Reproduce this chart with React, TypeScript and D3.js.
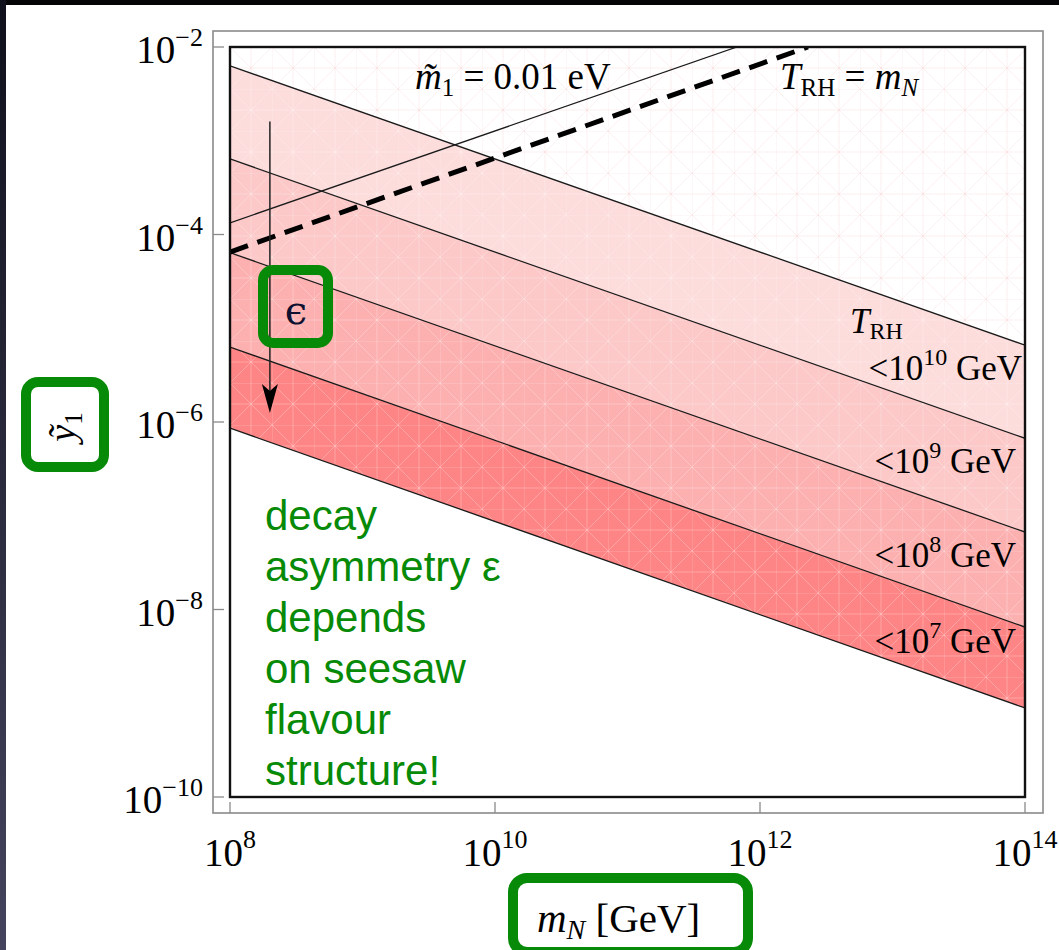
import React from "react";
import * as d3 from "d3";

// ---------- data ----------
const xTickExps = [8, 10, 12, 14];
const yTickExps = [-2, -4, -6, -8, -10];

// band boundary lines: value of ỹ1 at mN = 1e8 (left) and at mN = 1e14 (right)
const boundaryLeft = [6.3e-3, 6.4e-4, 6.4e-5, 6.3e-6, 8.6e-7];
const boundaryRight = [6.6e-6, 6.7e-7, 6.7e-8, 6.5e-9, 8.9e-10];

// T_RH bands labels (exponent of upper T_RH limit)
const bandExps = [10, 9, 8, 7];
const bandColors = ["#fddcdc", "#fcc8c8", "#fcb0b0", "#fe8585"];

// m̃1 = 0.01 eV line: [mN, y]
const m1Line: [number, number][] = [
  [1e8, 1.33e-4],
  [6.7e11, 1e-2],
];
// T_RH = m_N dashed line
const trhLine: [number, number][] = [
  [1e8, 6.5e-5],
  [2.3e12, 1e-2],
];
// epsilon arrow
const arrowX = 2.0e8;
const arrowY: [number, number] = [1.6e-3, 1.25e-6];

const noteLines = [
  "decay",
  "asymmetry \u03b5",
  "depends",
  "on seesaw",
  "flavour",
  "structure!",
];

const GREEN = "#078a07";
const SERIF = "'Liberation Serif', 'DejaVu Serif', serif";
const SANS = "'Liberation Sans', Arial, sans-serif";

export default function App() {
  const W = 1059;
  const H = 950;
  const x = d3.scaleLog().domain([1e8, 1e14]).range([230, 1025]);
  const y = d3.scaleLog().domain([1e-10, 1e-2]).range([797, 47]);
  const [x0, x1] = x.domain();
  const [y0, y1] = y.domain();

  const line = d3
    .line<[number, number]>()
    .x((d) => x(d[0]))
    .y((d) => y(d[1]));

  const bandPolys = bandExps.map((_, i) => {
    const pts: [number, number][] = [
      [x0, boundaryLeft[i]],
      [x1, boundaryRight[i]],
      [x1, boundaryRight[i + 1]],
      [x0, boundaryLeft[i + 1]],
    ];
    return line(pts) + "Z";
  });
  const topPoly =
    line([
      [x0, y1],
      [x1, y1],
      [x1, boundaryRight[0]],
      [x0, boundaryLeft[0]],
    ]) + "Z";
  const allBands =
    line([
      [x0, boundaryLeft[0]],
      [x1, boundaryRight[0]],
      [x1, boundaryRight[boundaryRight.length - 1]],
      [x0, boundaryLeft[boundaryLeft.length - 1]],
    ]) + "Z";

  const ax = x(arrowX);
  const ayTop = y(arrowY[0]);
  const ayTip = y(arrowY[1]);

  const plotL = x(x0);
  const plotR = x(x1);
  const plotT = y(y1);
  const plotB = y(y0);

  const meshPath =
    "M0 0 L42 42 M42 0 L0 42 M0 0 H42 M0 0 V42 M21 0 V42 M0 21 H42";

  return (
    <svg
      width={W}
      height={H}
      style={{ position: "absolute", left: 0, top: 0, display: "block" }}
    >
      <defs>
        <linearGradient id="edge" x1="0" y1="0" x2="0" y2="1">
          <stop offset="0" stopColor="#10101c" />
          <stop offset="1" stopColor="#44445e" />
        </linearGradient>
        <pattern id="meshW" width="42" height="42" patternUnits="userSpaceOnUse" x={plotL} y={plotT}>
          <path d={meshPath} stroke="#ffffff" strokeOpacity={0.25} strokeWidth={1} fill="none" />
        </pattern>
        <pattern id="meshP" width="42" height="42" patternUnits="userSpaceOnUse" x={plotL} y={plotT}>
          <path d={meshPath} stroke="#f4a0a0" strokeOpacity={0.16} strokeWidth={1} fill="none" />
        </pattern>
        <clipPath id="plotClip">
          <rect x={plotL} y={plotT} width={plotR - plotL} height={plotB - plotT} />
        </clipPath>
      </defs>

      {/* slide background */}
      <rect x={0} y={0} width={W} height={H} fill="#050508" />
      <rect x={0} y={0} width={6} height={H} fill="url(#edge)" />
      <rect x={6} y={5} width={W - 6} height={H - 5} fill="#ffffff" />

      {/* outer (gray) frame with ticks */}
      <rect x={213} y={31} width={1043 - 213} height={813 - 31} fill="none" stroke="#8a8a8a" strokeWidth={1.6} />
      {yTickExps.map((e) => (
        <line key={"yt" + e} x1={213} x2={224} y1={y(Math.pow(10, e))} y2={y(Math.pow(10, e))} stroke="#8a8a8a" strokeWidth={1.3} />
      ))}
      {xTickExps.map((e) => (
        <line key={"xt" + e} x1={x(Math.pow(10, e))} x2={x(Math.pow(10, e))} y1={813} y2={802} stroke="#8a8a8a" strokeWidth={1.3} />
      ))}

      {/* plot content */}
      <g clipPath="url(#plotClip)">
        <path d={topPoly} fill="url(#meshP)" />
        {bandPolys.map((d, i) => (
          <path key={"b" + i} d={d} fill={bandColors[i]} />
        ))}
        <path d={allBands} fill="url(#meshW)" />
        {boundaryLeft.map((v, i) => (
          <path
            key={"l" + i}
            d={line([
              [x0, v],
              [x1, boundaryRight[i]],
            ]) || ""}
            stroke="#1a1a1a"
            strokeWidth={1.3}
            fill="none"
          />
        ))}
        <path d={line(m1Line) || ""} stroke="#1a1a1a" strokeWidth={1.3} fill="none" />
        <path d={line(trhLine) || ""} stroke="#000" strokeWidth={5} strokeDasharray="19 10" fill="none" />
        {/* epsilon arrow */}
        <line x1={ax} x2={ax} y1={ayTop} y2={ayTip - 20} stroke="#222" strokeWidth={1.5} />
        <path d={`M${ax} ${ayTip} L${ax - 8} ${ayTip - 29} L${ax} ${ayTip - 22} L${ax + 8} ${ayTip - 29} Z`} fill="#000" />
      </g>

      {/* inner (black) frame */}
      <rect x={plotL} y={plotT} width={plotR - plotL} height={plotB - plotT} fill="none" stroke="#111" strokeWidth={2.4} />

      {/* y tick labels */}
      {yTickExps.map((e) => (
        <text key={"yl" + e} x={203} y={y(Math.pow(10, e)) + 16} textAnchor="end" fontFamily={SERIF} fontSize={39} fill="#000">
          <tspan>10</tspan>
          <tspan dy={-17} fontSize={26}>{"\u2212" + Math.abs(e)}</tspan>
        </text>
      ))}
      {/* x tick labels */}
      {xTickExps.map((e) => (
        <text key={"xl" + e} x={x(Math.pow(10, e))} y={866} textAnchor="middle" fontFamily={SERIF} fontSize={39} fill="#000">
          <tspan>10</tspan>
          <tspan dy={-18} fontSize={26}>{String(e)}</tspan>
        </text>
      ))}

      {/* in-plot labels */}
      <text x={415} y={89} fontFamily={SERIF} fontSize={37} fill="#000">
        <tspan fontStyle="italic">{"m\u0303"}</tspan>
        <tspan dy={7} fontSize={25}>1</tspan>
        <tspan dy={-7}>{" = 0.01 eV"}</tspan>
      </text>
      <text x={780} y={89} fontFamily={SERIF} fontSize={37} fill="#000">
        <tspan fontStyle="italic">T</tspan>
        <tspan dy={7} fontSize={25}>RH</tspan>
        <tspan dy={-7}>{" = "}</tspan>
        <tspan fontStyle="italic">m</tspan>
        <tspan dy={7} fontSize={25} fontStyle="italic">N</tspan>
      </text>
      <text x={850} y={333} fontFamily={SERIF} fontSize={35} fill="#000">
        <tspan fontStyle="italic">T</tspan>
        <tspan dy={6} fontSize={24}>RH</tspan>
      </text>
      {bandExps.map((e, i) => {
        const baseY = [380, 473, 567, 653][i];
        const endX = [1022, 1016, 1016, 1016][i];
        return (
          <text key={"bl" + e} x={endX} y={baseY} textAnchor="end" fontFamily={SERIF} fontSize={35} fill="#000">
            <tspan>{"<10"}</tspan>
            <tspan dy={-15} fontSize={24}>{String(e)}</tspan>
            <tspan dy={15}>{" GeV"}</tspan>
          </text>
        );
      })}

      {/* epsilon label with green box */}
      <text x={296} y={324} textAnchor="middle" fontFamily="'DejaVu Serif', serif" fontSize={40} fill="#101030">
        {"\u03f5"}
      </text>
      <rect x={263} y={270} width={65} height={73} rx={10} fill="none" stroke={GREEN} strokeWidth={10} />

      {/* green note */}
      {noteLines.map((t, i) => (
        <text key={"n" + i} x={265} y={530 + i * 51} fontFamily={SANS} fontSize={42} fill={GREEN}>
          {t}
        </text>
      ))}

      {/* y axis label */}
      <text transform="translate(75,427) rotate(-90)" textAnchor="middle" fontFamily={SERIF} fontSize={38} fill="#000">
        <tspan fontStyle="italic">{"\u1ef9"}</tspan>
        <tspan dy={7} fontSize={25}>1</tspan>
      </text>
      <rect x={26} y={382} width={78} height={85} rx={12} fill="none" stroke={GREEN} strokeWidth={10} />

      {/* x axis label */}
      <text x={537} y={932} fontFamily={SERIF} fontSize={41} fill="#000">
        <tspan fontStyle="italic">m</tspan>
        <tspan dy={7} fontSize={28} fontStyle="italic">N</tspan>
        <tspan dy={-7}>{" [GeV]"}</tspan>
      </text>
      <rect x={513} y={878} width={235} height={74} rx={14} fill="none" stroke={GREEN} strokeWidth={10} />
    </svg>
  );
}
